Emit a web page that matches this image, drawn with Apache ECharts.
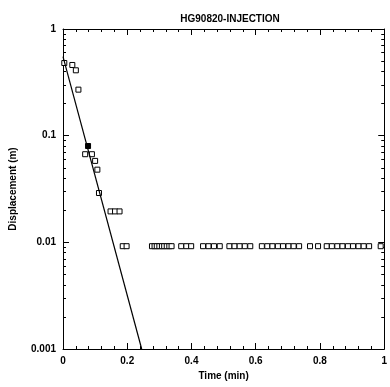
<!DOCTYPE html>
<html><head><meta charset="utf-8">
<script src="https://cdn.jsdelivr.net/npm/echarts@6/dist/echarts.min.js"></script>
<style>html,body{margin:0;padding:0;background:#fff}#c{width:390px;height:387px}</style>
</head><body><div id="c"></div>
<script>
const chartTitle = "HG90820-INJECTION";
const xAxisTitle = "Time (min)";
const yAxisTitle = "Displacement (m)";
const xTickLabels = ["0", "0.2", "0.4", "0.6", "0.8", "1"];
const yTickValues = [0.001, 0.01, 0.1, 1];
const yTickLabels = ["0.001", "0.01", "0.1", "1"];
const yMinorTicks = [0.002,0.003,0.004,0.005,0.006,0.007,0.008,0.009,
                     0.02,0.03,0.04,0.05,0.06,0.07,0.08,0.09,
                     0.2,0.3,0.4,0.5,0.6,0.7,0.8,0.9];

// observed displacement (open squares)
const obsTime = [0.004,0.029,0.040,0.048,0.069,0.090,0.100,0.107,0.112,0.148,0.162,0.176,
  0.186,0.198,
  0.277,0.285,0.292,0.300,0.308,0.315,0.323,0.331,0.338,
  0.368,0.384,0.399,
  0.436,0.453,0.470,0.488,
  0.518,0.534,0.550,0.566,0.583,
  0.619,0.636,0.652,0.669,0.685,0.702,0.718,0.735,
  0.769,0.794,
  0.821,0.837,0.854,0.870,0.887,0.903,0.920,0.936,0.953,
  0.989];
const obsDisp = [0.48,0.46,0.41,0.27,0.067,0.067,0.058,0.048,0.029,0.0195,0.0195,0.0195,
  0.0092,0.0092,
  0.0092,0.0092,0.0092,0.0092,0.0092,0.0092,0.0092,0.0092,0.0092,
  0.0092,0.0092,0.0092,
  0.0092,0.0092,0.0092,0.0092,
  0.0092,0.0092,0.0092,0.0092,0.0092,
  0.0092,0.0092,0.0092,0.0092,0.0092,0.0092,0.0092,0.0092,
  0.0092,0.0092,
  0.0092,0.0092,0.0092,0.0092,0.0092,0.0092,0.0092,0.0092,0.0092,
  0.0092];
// point drawn filled
const filledTime = [0.078];
const filledDisp = [0.080];
// fitted straight line
const fitTime = [0, 0.245];
const fitDisp = [0.55, 0.001];

const zip = (a, b) => a.map((v, i) => [v, b[i]]);
const FONT = 'Liberation Sans';
const txt = {color: '#000', fontFamily: FONT, fontWeight: 'bold', fontSize: 10};

function xAx(pos, labels) {
  return {
    type: 'value', min: 0, max: 1, interval: 0.2, position: pos,
    axisLine: {show: true, onZero: false, lineStyle: {color: '#000', width: 1}},
    axisTick: {show: true, inside: true, length: 6, lineStyle: {color: '#000', width: 1}},
    minorTick: {show: true, splitNumber: 5, length: 3, lineStyle: {color: '#000', width: 1}},
    axisLabel: labels ? Object.assign({show: true, margin: 7,
      formatter: (v) => xTickLabels[Math.round(v / 0.2)]}, txt) : {show: false},
    splitLine: {show: false}, minorSplitLine: {show: false},
    name: labels ? xAxisTitle : '', nameLocation: 'middle', nameGap: 21,
    nameTextStyle: txt
  };
}
function yAx(pos, major, labels) {
  const ax = {
    type: 'log', logBase: 10, min: 0.001, max: 1, position: pos,
    axisLine: {show: major, onZero: false, lineStyle: {color: '#000', width: 1}},
    axisTick: {show: true, inside: true, length: major ? 6 : 3,
      customValues: major ? yTickValues : yMinorTicks,
      lineStyle: {color: '#000', width: 1}},
    axisLabel: {show: false},
    splitLine: {show: false}
  };
  if (labels) {
    ax.axisLabel = Object.assign({show: true, margin: 7, customValues: yTickValues,
      formatter: (v) => yTickLabels[yTickValues.findIndex(t => Math.abs(Math.log10(t) - Math.log10(v)) < 1e-6)]}, txt);
    ax.name = yAxisTitle; ax.nameLocation = 'middle'; ax.nameGap = 45;
    ax.nameTextStyle = txt;
  }
  return ax;
}

const chart = echarts.init(document.getElementById('c'), null, {renderer: 'canvas'});
chart.setOption({
  animation: false,
  backgroundColor: '#fff',
  title: {text: chartTitle, left: 225, top: 9, textAlign: 'center',
    textStyle: Object.assign({}, txt)},
  grid: {left: 60, right: 2, top: 29, bottom: 38, containLabel: false},
  xAxis: [xAx('bottom', true), xAx('top', false)],
  yAxis: [yAx('left', true, true), yAx('left', false, false), yAx('right', true, false), yAx('right', false, false)],
  series: [
    {type: 'line', data: zip(fitTime, fitDisp), xAxisIndex: 0, yAxisIndex: 0,
      showSymbol: false, symbol: 'none', lineStyle: {color: '#000', width: 1.2}, z: 3, clip: true},
    {type: 'scatter', data: zip(obsTime, obsDisp), xAxisIndex: 0, yAxisIndex: 0,
      symbol: 'rect', symbolSize: 5,
      itemStyle: {color: '#fff', borderColor: '#000', borderWidth: 1, opacity: 1}, z: 2},
    {type: 'scatter', data: zip(filledTime, filledDisp), xAxisIndex: 0, yAxisIndex: 0,
      symbol: 'rect', symbolSize: 5,
      itemStyle: {color: '#000', borderColor: '#000', borderWidth: 1, opacity: 1}, z: 2}
  ]
});
</script></body></html>
